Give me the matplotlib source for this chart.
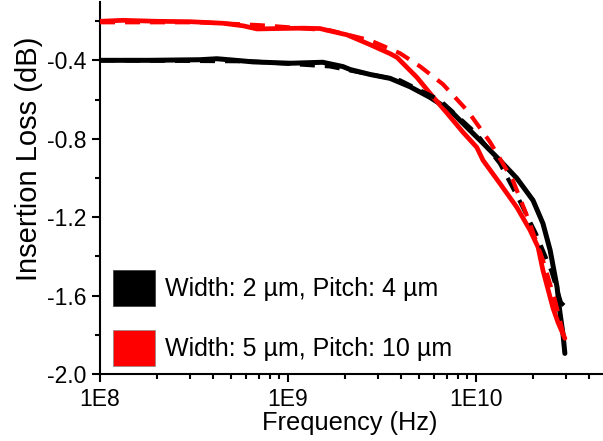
import matplotlib
matplotlib.use("Agg")
import matplotlib.pyplot as plt
from matplotlib.patches import Patch
import numpy as np

plt.rcParams['font.family'] = ['Liberation Sans', 'DejaVu Sans']

# ---- data ----
# Measured, Width 2 um / Pitch 4 um (black, solid)
f_meas_black = [1.00e8, 1.85e8, 3.40e8, 4.19e8, 5.56e8, 6.52e8, 1.03e9, 1.53e9,
                1.96e9, 2.14e9, 2.73e9, 3.49e9, 4.46e9, 5.69e9, 7.28e9, 8.95e9,
                1.09e10, 1.34e10, 1.65e10, 2.01e10, 2.27e10, 2.48e10, 2.70e10,
                2.80e10, 2.90e10, 2.97e10]
il_meas_black = [-0.400, -0.400, -0.397, -0.392, -0.402, -0.408, -0.415, -0.410,
                 -0.432, -0.447, -0.472, -0.492, -0.535, -0.589, -0.655, -0.742,
                 -0.823, -0.910, -1.002, -1.114, -1.232, -1.369, -1.558,
                 -1.691, -1.793, -1.895]

# Measured, Width 5 um / Pitch 10 um (red, solid)
f_meas_red = [1.00e8, 1.32e8, 2.01e8, 3.01e8, 4.51e8, 5.77e8, 6.84e8, 8.73e8,
              1.20e9, 1.48e9, 1.67e9, 2.06e9, 2.73e9, 3.49e9, 3.80e9, 4.85e9,
              5.69e9, 7.02e9, 8.53e9, 1.01e10, 1.09e10, 1.34e10, 1.65e10,
              1.94e10, 2.14e10, 2.27e10, 2.57e10, 2.73e10, 2.97e10]
il_meas_red = [-0.201, -0.196, -0.201, -0.203, -0.211, -0.224, -0.240, -0.238,
               -0.236, -0.238, -0.250, -0.270, -0.320, -0.366, -0.385, -0.487,
               -0.568, -0.670, -0.767, -0.844, -0.910, -1.028, -1.150,
               -1.267, -1.354, -1.471, -1.665, -1.737, -1.818]

# Simulated (dashed)
f_sim_black = [1.00e8, 6.28e8, 1.67e9, 3.94e9, 6.44e9, 1.00e10, 1.34e10, 1.67e10,
               2.08e10, 2.51e10, 2.83e10, 2.97e10]
il_sim_black = [-0.400, -0.405, -0.431, -0.502, -0.604, -0.772, -0.926, -1.099,
                -1.283, -1.471, -1.635, -1.655]

f_sim_red = [1.00e8, 3.40e8, 7.10e8, 1.67e9, 2.73e9, 3.94e9, 5.04e9, 6.67e9,
             9.06e9, 1.19e10, 1.57e10, 1.89e10, 2.27e10, 2.63e10, 2.97e10]
il_sim_red = [-0.206, -0.206, -0.221, -0.247, -0.298, -0.364, -0.431, -0.522,
              -0.660, -0.818, -1.012, -1.206, -1.420, -1.624, -1.829]

legend_labels = ["Width: 2 \u00b5m, Pitch: 4 \u00b5m", "Width: 5 \u00b5m, Pitch: 10 \u00b5m"]
y_ticks = [-2.0, -1.6, -1.2, -0.8, -0.4]
x_ticks = [1e8, 1e9, 1e10]
x_ticklabels = ["1E8", "1E9", "1E10"]

# ---- figure ----
fig = plt.figure(figsize=(6.03, 4.41), dpi=100)
ax = fig.add_axes([100 / 603, 67 / 441, 507.4 / 603, 372.5 / 441])

ax.plot(f_meas_black, il_meas_black, color='black', lw=3.6, solid_capstyle='round', zorder=3)
ax.plot(f_meas_red, il_meas_red, color='#ff0000', lw=3.4, solid_capstyle='round', zorder=3)
ax.plot(f_sim_black, il_sim_black, color='black', lw=3.0, linestyle=(0, (3.6, 2.4)), zorder=4)
ax.plot(f_sim_red, il_sim_red, color='#ff0000', lw=3.0, linestyle=(0, (3.6, 2.4)), zorder=4)

ax.set_xscale('log')
ax.set_xlim(1e8, 5e10)
ax.set_ylim(-2.0, -0.1)

ax.set_xticks(x_ticks)
ax.set_xticklabels(x_ticklabels)
ax.set_yticks(y_ticks)
ax.set_yticklabels([f"{v:.1f}" for v in y_ticks])
ax.set_yticks(np.arange(-1.8, -0.1, 0.4), minor=True)

ax.tick_params(axis='both', which='major', direction='out', length=6, width=1.5,
               labelsize=16.5, pad=4)
ax.tick_params(axis='both', which='minor', direction='out', length=3.5, width=1.5)

for s in ['top', 'right']:
    ax.spines[s].set_visible(False)
for s in ['left', 'bottom']:
    ax.spines[s].set_linewidth(1.5)

ax.set_xlabel("Frequency (Hz)", fontsize=18.3)
ax.set_ylabel("Insertion Loss (dB)", fontsize=21)
ax.xaxis.set_label_coords(0.493, -0.10)
ax.yaxis.set_label_coords(-0.112, 0.578)

handles = [Patch(facecolor='black', edgecolor='#333333', lw=0.5),
           Patch(facecolor='#ff0000', edgecolor='#888888', lw=0.5)]
ax.legend(handles, legend_labels, loc='lower left', bbox_to_anchor=(0.02, 0.015),
          frameon=False, fontsize=18, handlelength=1.7, handleheight=1.85,
          handletextpad=0.38, labelspacing=0.95, borderpad=0.1, borderaxespad=0)

fig.savefig("out.png", dpi=100)
